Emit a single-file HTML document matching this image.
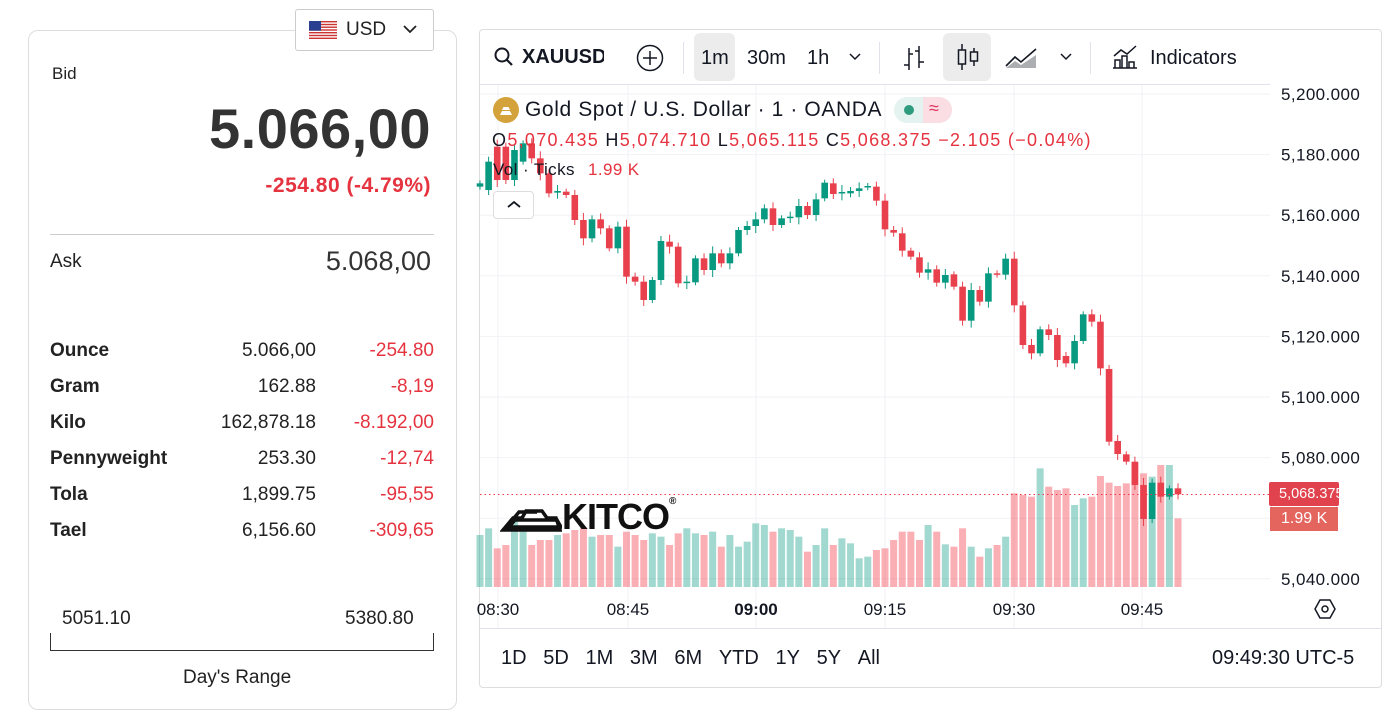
<!DOCTYPE html>
<html><head><meta charset="utf-8"><style>
*{box-sizing:border-box;margin:0;padding:0}
body{width:1400px;height:693px;background:#fff;font-family:"Liberation Sans",sans-serif;color:#222;position:relative;overflow:hidden}
.abs{position:absolute;white-space:nowrap}
.card{position:absolute;left:28px;top:30px;width:429px;height:680px;border:1px solid #ddd;border-radius:10px}
.usd{position:absolute;left:295px;top:9px;width:139px;height:42px;border:1px solid #ccc;border-radius:3px;background:#fff}
.row{position:absolute;left:50px;width:384px;font-size:19px;height:24px}
.row b{position:absolute;left:0}
.row .v{position:absolute;right:118px}
.row .c{position:absolute;right:0;color:#e5333f}
.frame{position:absolute;left:479px;top:29px;width:903px;height:659px;border:1px solid #ddd;border-radius:4px}
.tb{font-size:20px;color:#131722}
</style></head><body>
<div class="card"></div>
<div class="usd"></div>
<svg class="abs" style="left:309px;top:21px" width="28" height="18" viewBox="0 0 28 18">
<rect width="28" height="18" fill="#fff"/>
<g fill="#c33">
<rect y="0" width="28" height="1.4"/><rect y="2.8" width="28" height="1.4"/><rect y="5.5" width="28" height="1.4"/><rect y="8.3" width="28" height="1.4"/><rect y="11" width="28" height="1.4"/><rect y="13.8" width="28" height="1.4"/><rect y="16.6" width="28" height="1.4"/></g>
<rect width="12" height="9.7" fill="#2a3f8f"/></svg>
<div class="abs" style="left:346px;top:19px;font-size:19px">USD</div>
<svg class="abs" style="left:403px;top:25px" width="14" height="9"><path d="M1 1l6 6 6-6" stroke="#222" stroke-width="1.8" fill="none"/></svg>
<div class="abs" style="left:52px;top:64px;font-size:17px">Bid</div>
<div class="abs" style="right:969px;top:96px;font-size:56px;font-weight:bold;color:#333;letter-spacing:0.5px">5.066,00</div>
<div class="abs" style="right:969px;top:174px;font-size:21px;font-weight:bold;color:#e5333f;letter-spacing:0.5px">-254.80 (-4.79%)</div>
<div class="abs" style="left:50px;top:234px;width:384px;height:1px;background:#ccc"></div>
<div class="abs" style="left:50px;top:251px;font-size:19px">Ask</div>
<div class="abs" style="right:969px;top:246px;font-size:27px;color:#333">5.068,00</div>
<div class="row" style="top:340px"><b>Ounce</b><span class="v">5.066,00</span><span class="c">-254.80</span></div>
<div class="row" style="top:376px"><b>Gram</b><span class="v">162.88</span><span class="c">-8,19</span></div>
<div class="row" style="top:412px"><b>Kilo</b><span class="v">162,878.18</span><span class="c">-8.192,00</span></div>
<div class="row" style="top:448px"><b>Pennyweight</b><span class="v">253.30</span><span class="c">-12,74</span></div>
<div class="row" style="top:484px"><b>Tola</b><span class="v">1,899.75</span><span class="c">-95,55</span></div>
<div class="row" style="top:520px"><b>Tael</b><span class="v">6,156.60</span><span class="c">-309,65</span></div>
<div class="abs" style="left:62px;top:608px;font-size:19px">5051.10</div>
<div class="abs" style="left:345px;top:608px;font-size:19px">5380.80</div>
<div class="abs" style="left:50px;top:633px;width:384px;height:18px;border:1.5px solid #333;border-top:none"></div>
<div class="abs" style="left:183px;top:667px;font-size:19px">Day's Range</div>

<div class="frame"></div>
<svg id="ch" class="abs" style="left:0;top:0" width="1400" height="693"></svg>
<svg class="abs" style="left:493px;top:46px" width="22" height="22"><circle cx="9" cy="9" r="6.5" stroke="#131722" stroke-width="2" fill="none"/><path d="M14 14l5 5" stroke="#131722" stroke-width="2.2"/></svg>
<div class="abs tb" style="left:522px;top:46px;font-weight:bold;width:82px;overflow:hidden">XAUUSD</div>
<svg class="abs" style="left:636px;top:44px" width="28" height="28"><circle cx="14" cy="14" r="12.5" stroke="#131722" stroke-width="1.5" fill="none"/><path d="M14 7v14M7 14h14" stroke="#131722" stroke-width="1.5"/></svg>
<div class="abs" style="left:683px;top:42px;width:1px;height:32px;background:#e0e3eb"></div>
<div class="abs" style="left:694px;top:33px;width:41px;height:48px;background:#ececec;border-radius:6px"></div>
<div class="abs tb" style="left:701px;top:47px">1m</div>
<div class="abs tb" style="left:747px;top:47px">30m</div>
<div class="abs tb" style="left:807px;top:47px">1h</div>
<svg class="abs" style="left:849px;top:53px" width="12" height="8"><path d="M1 1l5 5 5-5" stroke="#131722" stroke-width="1.5" fill="none"/></svg>
<div class="abs" style="left:879px;top:42px;width:1px;height:32px;background:#e0e3eb"></div>
<svg class="abs" style="left:901px;top:44px" width="26" height="28"><path d="M8 4v22M3 21h5M8 10h4M18 2v22M14 7h4M18 18h5" stroke="#131722" stroke-width="1.5" fill="none"/></svg>
<div class="abs" style="left:943px;top:33px;width:48px;height:48px;background:#ececec;border-radius:6px"></div>
<svg class="abs" style="left:954px;top:42px" width="26" height="30"><path d="M8 2v26M20 6v18" stroke="#131722" stroke-width="1.5"/><rect x="4.5" y="8" width="7" height="14" fill="#ececec" stroke="#131722" stroke-width="1.5"/><rect x="16.5" y="10" width="7" height="9" fill="#ececec" stroke="#131722" stroke-width="1.5"/></svg>
<svg class="abs" style="left:1004px;top:44px" width="36" height="26"><path d="M2 22l9-9 6 5 15-13" stroke="#131722" stroke-width="1.6" fill="none"/><path d="M2 24l9-7 6 4 15-10v13H2z" fill="#131722" opacity=".35"/></svg>
<svg class="abs" style="left:1060px;top:53px" width="12" height="8"><path d="M1 1l5 5 5-5" stroke="#131722" stroke-width="1.5" fill="none"/></svg>
<div class="abs" style="left:1090px;top:42px;width:1px;height:32px;background:#e0e3eb"></div>
<svg class="abs" style="left:1111px;top:44px" width="28" height="26"><path d="M2 24h24M4 24v-8h5v8M11 24v-12h5v12M18 24v-6h5v6M3 12l7-6 6 4 9-8" stroke="#131722" stroke-width="1.5" fill="none"/></svg>
<div class="abs tb" style="left:1150px;top:47px">Indicators</div>
<div class="abs" style="left:480px;top:84px;width:790px;height:1px;background:#e0e3eb"></div>

<svg class="abs" style="left:493px;top:97px" width="26" height="26"><circle cx="13" cy="13" r="13" fill="#d4a23a"/><path d="M7 18h12l-2-4H9z M9 13h8l-1.5-3h-5z" fill="#fff"/></svg>
<div class="abs" style="left:525px;top:98px;font-size:21px;color:#131722;letter-spacing:0.6px">Gold Spot / U.S. Dollar · 1 · OANDA</div>
<div class="abs" style="left:894px;top:97px;width:58px;height:26px;border-radius:13px;background:#e4f3ef"></div>
<div class="abs" style="left:923px;top:97px;width:29px;height:26px;border-radius:0 13px 13px 0;background:#fbdde4"></div>
<div class="abs" style="left:904px;top:105px;width:10px;height:10px;border-radius:5px;background:#2e9b7e"></div>
<div class="abs" style="left:929px;top:98px;font-size:18px;color:#e0345a">≈</div>
<div class="abs" style="left:492px;top:130px;font-size:18px;color:#131722;letter-spacing:1.3px">O<span style="color:#e5333f">5,070.435</span> H<span style="color:#e5333f">5,074.710</span> L<span style="color:#e5333f">5,065.115</span> C<span style="color:#e5333f">5,068.375 −2.105 (−0.04%)</span></div>
<div class="abs" style="left:493px;top:160px;font-size:17px;color:#131722;letter-spacing:0.4px">Vol · Ticks <span style="color:#e5333f;margin-left:8px">1.99 K</span></div>
<div class="abs" style="left:493px;top:191px;width:41px;height:28px;border:1px solid #ddd;border-radius:4px;background:#fff"></div>
<svg class="abs" style="left:507px;top:200px" width="14" height="9"><path d="M1 7l6-5 6 5" stroke="#131722" stroke-width="1.8" fill="none"/></svg>

<div class="abs" style="left:500px;top:496px;font-size:36px;font-weight:bold;color:#111;letter-spacing:-1px"><svg width="62" height="34" style="vertical-align:-4px"><path d="M3 31l10-12h9l4-7h16l5 7h9l4 12z M9 28l6-7h42l4 7z M14 19l5-6h18" fill="none" stroke="#111" stroke-width="3.5"/></svg>KITCO<span style="font-size:10px;vertical-align:top">®</span></div>

<div class="abs" style="left:1269px;top:482px;width:70px;height:24px;background:#e0424e;border-radius:2px"></div>
<div class="abs" style="left:1279px;top:486px;font-size:14.5px;color:#fff">5,068.375</div>
<div class="abs" style="left:1270px;top:507px;width:68px;height:24px;background:#e4645e"></div>
<div class="abs" style="left:1281px;top:510px;font-size:16px;color:#fff">1.99 K</div>
<svg class="abs" style="left:1314px;top:598px" width="22" height="22"><path d="M6 2h10l5 9-5 9H6l-5-9z" fill="none" stroke="#131722" stroke-width="1.5"/><circle cx="11" cy="11" r="3" fill="none" stroke="#131722" stroke-width="1.5"/></svg>
<div class="abs" style="left:480px;top:628px;width:901px;height:1px;background:#e0e3eb"></div>
<div class="abs tb" style="left:501px;top:647px">1D&nbsp;&nbsp;&nbsp;5D&nbsp;&nbsp;&nbsp;1M&nbsp;&nbsp;&nbsp;3M&nbsp;&nbsp;&nbsp;6M&nbsp;&nbsp;&nbsp;YTD&nbsp;&nbsp;&nbsp;1Y&nbsp;&nbsp;&nbsp;5Y&nbsp;&nbsp;&nbsp;All</div>
<div class="abs tb" style="left:1212px;top:647px">09:49:30 UTC-5</div>

<script>
var s='',NS=document.getElementById('ch');
function yP(p){return 94+(5200-p)*3.03;}
var xs=[498,628,756,885,1014,1142];
xs.forEach(function(x){s+='<line x1="'+x+'" y1="85" x2="'+x+'" y2="628" stroke="#f0f2f5"/>';});
for(var p=5200;p>=5040;p-=20){var y=yP(p);s+='<line x1="480" y1="'+y+'" x2="1270" y2="'+y+'" stroke="#f0f2f5"/>';
 if(p!=5060)s+='<text x="1281" y="'+(y+6)+'" font-size="17" letter-spacing="0.4" font-family="Liberation Sans" fill="#131722">'+p.toLocaleString('en-US')+'.000</text>';}
var tl=['08:30','08:45','09:00','09:15','09:30','09:45'];
tl.forEach(function(t,i){s+='<text x="'+xs[i]+'" y="615" text-anchor="middle" font-size="17" font-family="Liberation Sans" fill="#131722"'+(t=='09:00'?' font-weight="bold"':'')+'>'+t+'</text>';});
var c1=[[160,170,1],[95,180,1],[50,150,0],[50,150,0],[60,150,1],[40,95,1],[40,85,0],[85,130,0],[130,190,0],[183,188,1],[185,195,0],[195,270,0],[270,325,0],[268,325,1],[268,295,0],[295,355,0],[290,355,1],[290,440,0],[440,455,0],[455,510,0],[450,510,1],[333,450,1],[335,350,0],[350,460,0],[455,459,1],[385,457,1],[385,420,0],[370,420,1],[370,400,0],[370,400,1],[300,370,1],[288,300,1],[268,288,1],[235,268,1],[235,285,0],[265,285,1],[260,264,1],[228,262,1],[228,255,0],[208,255,1],[158,205,1],[160,192,0],[186,190,1],[183,190,1],[175,183,1],[168,172,1]];
var c2=[[80,122,0],[122,208,0],[210,218,0],[220,272,0],[272,290,0],[292,338,0],[328,338,1],[328,368,0],[345,368,1],[343,380,0],[380,482,0],[390,482,1],[390,425,0],[340,425,1],[340,344,0],[296,344,1],[296,436,0],[436,555,0],[555,580,0],[508,580,1],[508,525,0],[525,600,0],[588,610,0],[543,610,1],[463,543,1],[463,485,0],[485,625,0],[627,845,0],[843,882,0],[883,905,0],[905,975,0],[975,1077,0],[968,1077,1],[968,1010,0],[985,1010,1],[985,1003,0]];
var C=[];c1.forEach(function(c){C.push([130+c[0]/3,130+c[1]/3,c[2]]);});c2.forEach(function(c){C.push([160+c[0]/3,160+c[1]/3,c[2]]);});
var v1=[1215,1195,1255,1245,1170,1195,1245,1230,1230,1215,1210,1200,1195,1220,1215,1215,1250,1205,1215,1230,1210,1220,1245,1210,1195,1210,1215,1205,1250,1215,1250,1235,1180,1185,1205,1195,1200,1220,1265,1245,1195,1245,1225,1240,1285,1280];
var v2=[1170,1165,1140,1115,1115,1140,1095,1115,1153,1160,1105,1160,1190,1165,1155,1130,1000,1005,1010,925,980,990,985,1035,1015,1010,948,968,978,970,908,940,950,915,915,1075];
var V=[];v1.forEach(function(v){V.push(130+v/3);});v2.forEach(function(v){V.push(160+v/3);});
var dx=(1178-480)/81;
for(var i=0;i<C.length;i++){var x=480+dx*i,c=C[i],vc=c[2]?'rgba(8,153,129,0.38)':'rgba(242,54,69,0.4)';
 var vt=V[i]||540;s+='<rect x="'+(x-3.5)+'" y="'+vt+'" width="7" height="'+(587-vt)+'" fill="'+vc+'"/>';}
for(var i=0;i<C.length;i++){var x=480+dx*i,c=C[i],col=c[2]?'#089981':'#e8404c';
 var h=Math.max(c[1]-c[0],1.5),w=3+((i*7)%5);
 s+='<line x1="'+x+'" y1="'+(c[0]-w)+'" x2="'+x+'" y2="'+(c[1]+w)+'" stroke="'+col+'" stroke-width="1"/>';
 s+='<rect x="'+(x-3.3)+'" y="'+c[0]+'" width="6.6" height="'+h+'" fill="'+col+'"/>';}
s+='<line x1="480" y1="494.5" x2="1270" y2="494.5" stroke="#f23645" stroke-dasharray="1.5 3"/>';
NS.innerHTML=s;
</script>
</body></html>
